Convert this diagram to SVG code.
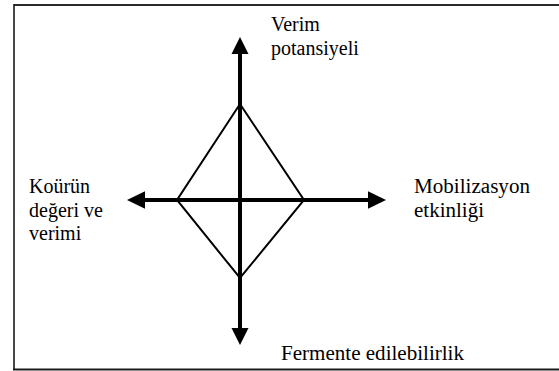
<svg xmlns="http://www.w3.org/2000/svg" width="559" height="371" viewBox="0 0 559 371">
<style>
.lbl{font-family:'Liberation Serif','Times New Roman',serif;font-size:20px;fill:#000}
.axis{stroke:#000;stroke-width:4;fill:none}
.dia{stroke:#000;stroke-width:2;fill:none;stroke-linejoin:miter}
.head{fill:#000}
</style>
<rect x="0" y="0" width="559" height="371" fill="#fff"/>
<g id="frame">
<line x1="14" y1="5" x2="559" y2="5" stroke="#2a2a2a" stroke-width="2"/>
<line x1="14" y1="4" x2="14" y2="370" stroke="#1a1a1a" stroke-width="1.6"/>
<line x1="13" y1="369.5" x2="559" y2="369.5" stroke="#1a1a1a" stroke-width="2"/>
</g>
<g id="connectors">
<line class="axis" x1="240" y1="50" x2="240" y2="332"/>
<line class="axis" x1="141" y1="200" x2="372" y2="200"/>
<polygon class="head" points="240,37 248.5,54 231.5,54"/>
<polygon class="head" points="240,345 248.5,328 231.5,328"/>
<polygon class="head" points="127,200 145,191.3 145,208.7"/>
<polygon class="head" points="386,200 368,191.3 368,208.7"/>
</g>
<g id="diamond">
<polygon class="dia" points="240,104 304,200 240,278 177,200"/>
</g>
<g id="node-top">
<text class="lbl" x="271" y="31">Verim</text>
<text class="lbl" x="271" y="55">potansiyeli</text>
</g>
<g id="node-left">
<text class="lbl" x="29" y="193">Koürün</text>
<text class="lbl" x="29" y="216.5">değeri ve</text>
<text class="lbl" x="29" y="240">verimi</text>
</g>
<g id="node-right">
<text class="lbl" x="414" y="193" textLength="116" lengthAdjust="spacingAndGlyphs">Mobilizasyon</text>
<text class="lbl" x="414" y="216.5" textLength="70" lengthAdjust="spacingAndGlyphs">etkinliği</text>
</g>
<g id="node-bottom">
<text class="lbl" x="281" y="360" textLength="183" lengthAdjust="spacingAndGlyphs">Fermente edilebilirlik</text>
</g>
</svg>
